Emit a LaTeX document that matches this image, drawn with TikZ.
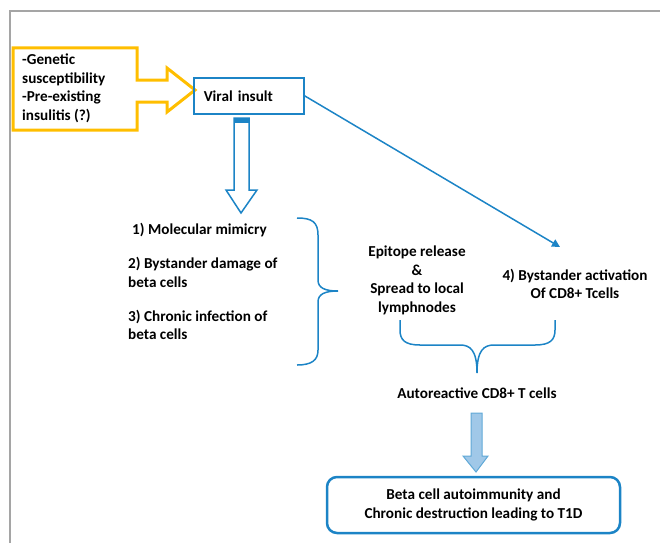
\documentclass[tikz,border=0pt]{standalone}
\usepackage{fontspec}
\setmainfont{Carlito}
\usetikzlibrary{arrows.meta,calc,positioning}

\definecolor{insultblue}{RGB}{28,132,198}
\definecolor{riskyellow}{RGB}{255,190,0}
\definecolor{paleblue}{RGB}{160,200,232}
\definecolor{framegray}{RGB}{165,165,165}

\tikzset{
  lbl/.style={font=\bfseries\fontsize{15.2}{18.5}\selectfont, inner sep=0pt, align=center},
  bluebox/.style={draw=insultblue, line width=1.5},
}

\begin{document}
\begin{tikzpicture}[x=1pt,y=-1pt]
\useasboundingbox (0,0) rectangle (660,543);
\draw[framegray, line width=2] (10,543) -- (10,11) -- (660,11);

% risk factors
\draw[riskyellow, line width=3, line join=miter] (13,48) -- (137,48) -- (137,80) -- (167,80) -- (167,68) -- (195,90) -- (167,112) -- (167,102) -- (137,102) -- (137,130) -- (13,130) -- cycle;
\node[lbl, align=left, anchor=north west] (risk) at (22,54) {-Genetic\\susceptibility\\-Pre-existing\\insulitis (?)};

% viral insult
\node[lbl, bluebox, align=left, text width=90, inner xsep=10, minimum height=36, anchor=north west] (viral) at (193,77) {Viral insult};

% hollow arrow down
\draw[insultblue, line width=1.5, fill=white] (234,118) -- (249,118) -- (249,190) -- (257,190) -- (241,213) -- (226,190) -- (234,190) -- cycle;
\fill[insultblue] (234,118) rectangle (249,123);

% mechanisms
\node[lbl, anchor=west] (mimic) at (132,230) {1) Molecular mimicry};
\node[lbl, align=left, anchor=west] (damage) at (128,272.5) {2) Bystander damage of\\beta cells};
\node[lbl, align=left, anchor=west] (chronic) at (128,325) {3) Chronic infection of\\beta cells};
\draw[insultblue, line width=1.5] (297,218) .. controls (312,218) and (318,222) .. (318,235) -- (318,280) .. controls (318,288) and (325,291) .. (338,291) .. controls (325,291) and (318,294) .. (318,302) -- (318,350) .. controls (318,360) and (312,365) .. (297,365);

\node[lbl] (epitope) at (417,280.5) {Epitope release\\\&\\Spread to local\\lymphnodes};
\node[lbl] (bystander) at (575,284) {4) Bystander activation\\Of CD8+ Tcells};
\coordinate (bytip) at (560,247);
\draw[insultblue, line width=1.5, -{Triangle[length=8,width=8]}] (viral.east) -- (bytip);

\draw[insultblue, line width=1.5] (400,320) -- (400,330) .. controls (400,340) and (405,345) .. (420,345) -- (460,345) .. controls (470,345) and (477,350) .. (477,373) .. controls (477,350) and (484,345) .. (494,345) -- (535,345) .. controls (550,345) and (555,340) .. (555,330) -- (555,320);
\node[lbl] (auto) at (477,393) {Autoreactive CD8+ T cells};

% outcome
\draw[insultblue!70, line width=1, fill=paleblue] (471,413) -- (482,413) -- (482,456) -- (488,456) -- (476,472) -- (463,456) -- (471,456) -- cycle;
\node[lbl, draw=insultblue, line width=2.5, rounded corners=10, minimum width=293, minimum height=56] (t1d) at (473.5,505) {Beta cell autoimmunity and\\Chronic destruction leading to T1D};
\end{tikzpicture}
\end{document}
